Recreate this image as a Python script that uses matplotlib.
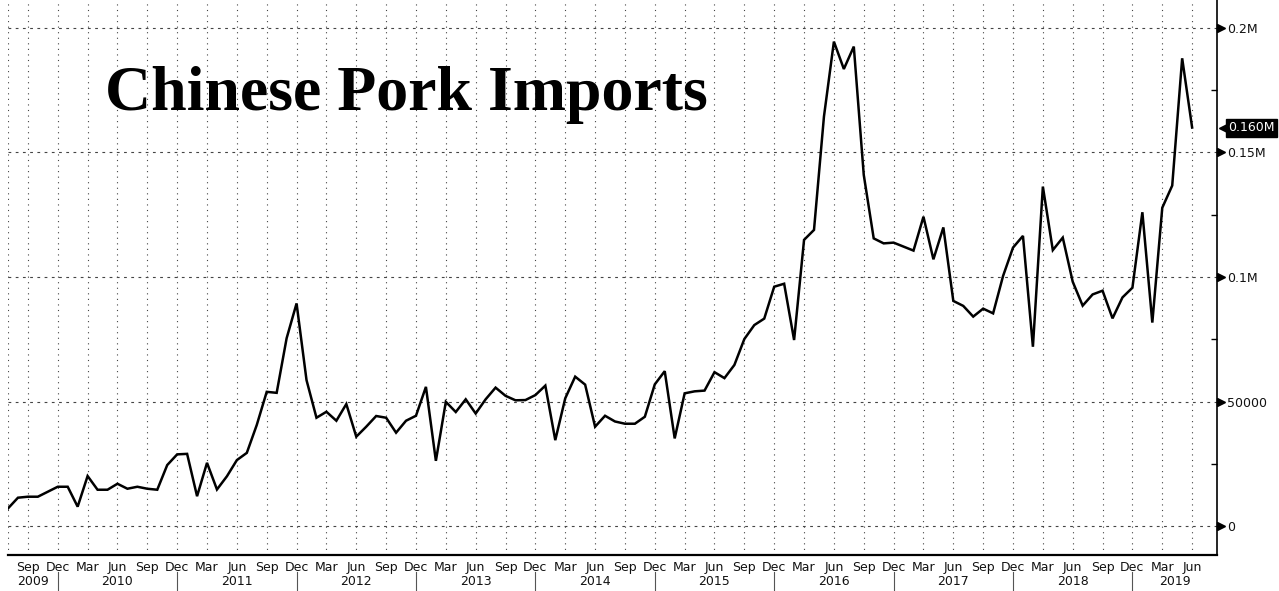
import numpy as np
import matplotlib
matplotlib.use('Agg')
import matplotlib.pyplot as plt
import matplotlib.transforms as mtransforms

# monthly Chinese pork imports (tonnes), Jul 2009 .. Jun 2019
y2009 = [7100, 11400, 11800, 11800, 13800, 15800]
y2010 = [15800, 7800, 20100, 14600, 14600, 17000, 15000, 15800, 15000, 14600, 24500, 28800]
y2011 = [29000, 12000, 25400, 14700, 20000, 26500, 29400, 40600, 53900, 53500, 75400, 89400]
y2012 = [58600, 43500, 45900, 42300, 49000, 35900, 39900, 44200, 43500, 37500, 42300, 44300]
y2013 = [55900, 26200, 49900, 45800, 50900, 45200, 50900, 55600, 52300, 50500, 50600, 52600]
y2014 = [56400, 34500, 51300, 60000, 56800, 39900, 44300, 42000, 41100, 41100, 43900, 56900]
y2015 = [62200, 35200, 53300, 54100, 54400, 61800, 59400, 64700, 75100, 80700, 83300, 96100]
y2016 = [97300, 74700, 114900, 118900, 164400, 194500, 183500, 192500, 141000, 115500, 113500, 113800]
y2017 = [112200, 110600, 124200, 107100, 119900, 90400, 88400, 84100, 87300, 85400, 100400, 111800]
y2018 = [116500, 72000, 136300, 110800, 115800, 98100, 88500, 93000, 94500, 83400, 91800, 95700]
y2019 = [126000, 81700, 127800, 136700, 187800, 160000]

pork = y2009 + y2010 + y2011 + y2012 + y2013 + y2014 + y2015 + y2016 + y2017 + y2018 + y2019
start_year, start_month = 2009, 7
years = list(range(2009, 2020))

month_names = ['Jan', 'Feb', 'Mar', 'Apr', 'May', 'Jun',
               'Jul', 'Aug', 'Sep', 'Oct', 'Nov', 'Dec']
yticks = [0, 50000, 100000, 150000, 200000]
ytick_labels = ['0', '50000', '0.1M', '0.15M', '0.2M']
last_label = '0.160M'

x = np.arange(len(pork))
cal_month = [(start_month - 1 + i) % 12 + 1 for i in x]
quarter_idx = [i for i in x if cal_month[i] in (3, 6, 9, 12)]
quarter_lab = [month_names[cal_month[i] - 1] for i in quarter_idx]
dec_idx = [i for i in x if cal_month[i] == 12]

fig = plt.figure(figsize=(12.79, 5.91), dpi=100)
ax = fig.add_axes([8 / 1279, 1 - 555 / 591, (1217 - 8) / 1279, 555 / 591])

xmax = 121.5
ax.plot(x, pork, color='black', lw=1.8, solid_joinstyle='miter', zorder=3)
ax.set_xlim(0, xmax)
ax.set_ylim(-11600, 211200)

# grid
ax.set_xticks(quarter_idx)
ax.set_xticklabels(quarter_lab)
ax.grid(axis='x', color='#444444', lw=0.8, linestyle=(0, (1, 4)))
ax.grid(axis='y', color='#444444', lw=0.8, linestyle=(0, (2.5, 4)))
ax.axvline(0, color='#444444', lw=0.8, linestyle=(0, (1, 4)))
ax.tick_params(axis='x', length=0, pad=4, labelsize=9, colors='#111111')

# right axis
ax.yaxis.tick_right()
ax.set_yticks(yticks)
ax.set_yticklabels(ytick_labels)
ax.set_yticks([25000, 75000, 125000, 175000], minor=True)
ax.tick_params(axis='y', which='major', length=0, pad=7, labelsize=9, colors='#111111')
ax.tick_params(axis='y', which='minor', direction='in', length=4, width=1, right=True, left=False)

for s in ['top', 'left']:
    ax.spines[s].set_visible(False)
ax.spines['bottom'].set_linewidth(1.6)
ax.spines['right'].set_linewidth(1.2)

trans = mtransforms.blended_transform_factory(ax.transAxes, ax.transData)
shift = mtransforms.ScaledTranslation(3 / 72, 0, fig.dpi_scale_trans)
ax.plot([1.0] * len(yticks), yticks, marker='>', ms=6, color='black', ls='none',
        clip_on=False, transform=trans + shift)

# last value tag
ax.plot([1.0], [pork[-1]], marker='<', ms=9, color='black', ls='none', clip_on=False,
        transform=trans + mtransforms.ScaledTranslation(6 / 72, 0, fig.dpi_scale_trans))
ax.text(1.0, pork[-1], last_label, transform=trans + mtransforms.ScaledTranslation(8 / 72, 0, fig.dpi_scale_trans),
        color='white', fontsize=9, va='center', ha='left',
        bbox=dict(boxstyle='square,pad=0.2', fc='black', ec='black'))

# year row
xtrans = mtransforms.blended_transform_factory(ax.transData, ax.transAxes)
bounds = [0] + dec_idx + [xmax]
for k, yr in enumerate(years):
    lo, hi = bounds[k], bounds[k + 1]
    ax.text((lo + hi) / 2, -0.047, str(yr), transform=xtrans, ha='center', va='center',
            fontsize=9, color='#111111')
for d in dec_idx:
    ax.plot([d, d], [-0.031, -0.064], color='#555555', lw=0.8, transform=xtrans, clip_on=False)

fig.text(105 / 1279, 1 - 110 / 591, 'Chinese Pork Imports', fontfamily='Liberation Serif',
         fontweight='bold', fontsize=46, va='baseline', ha='left')

fig.savefig('out.png', dpi=100)
